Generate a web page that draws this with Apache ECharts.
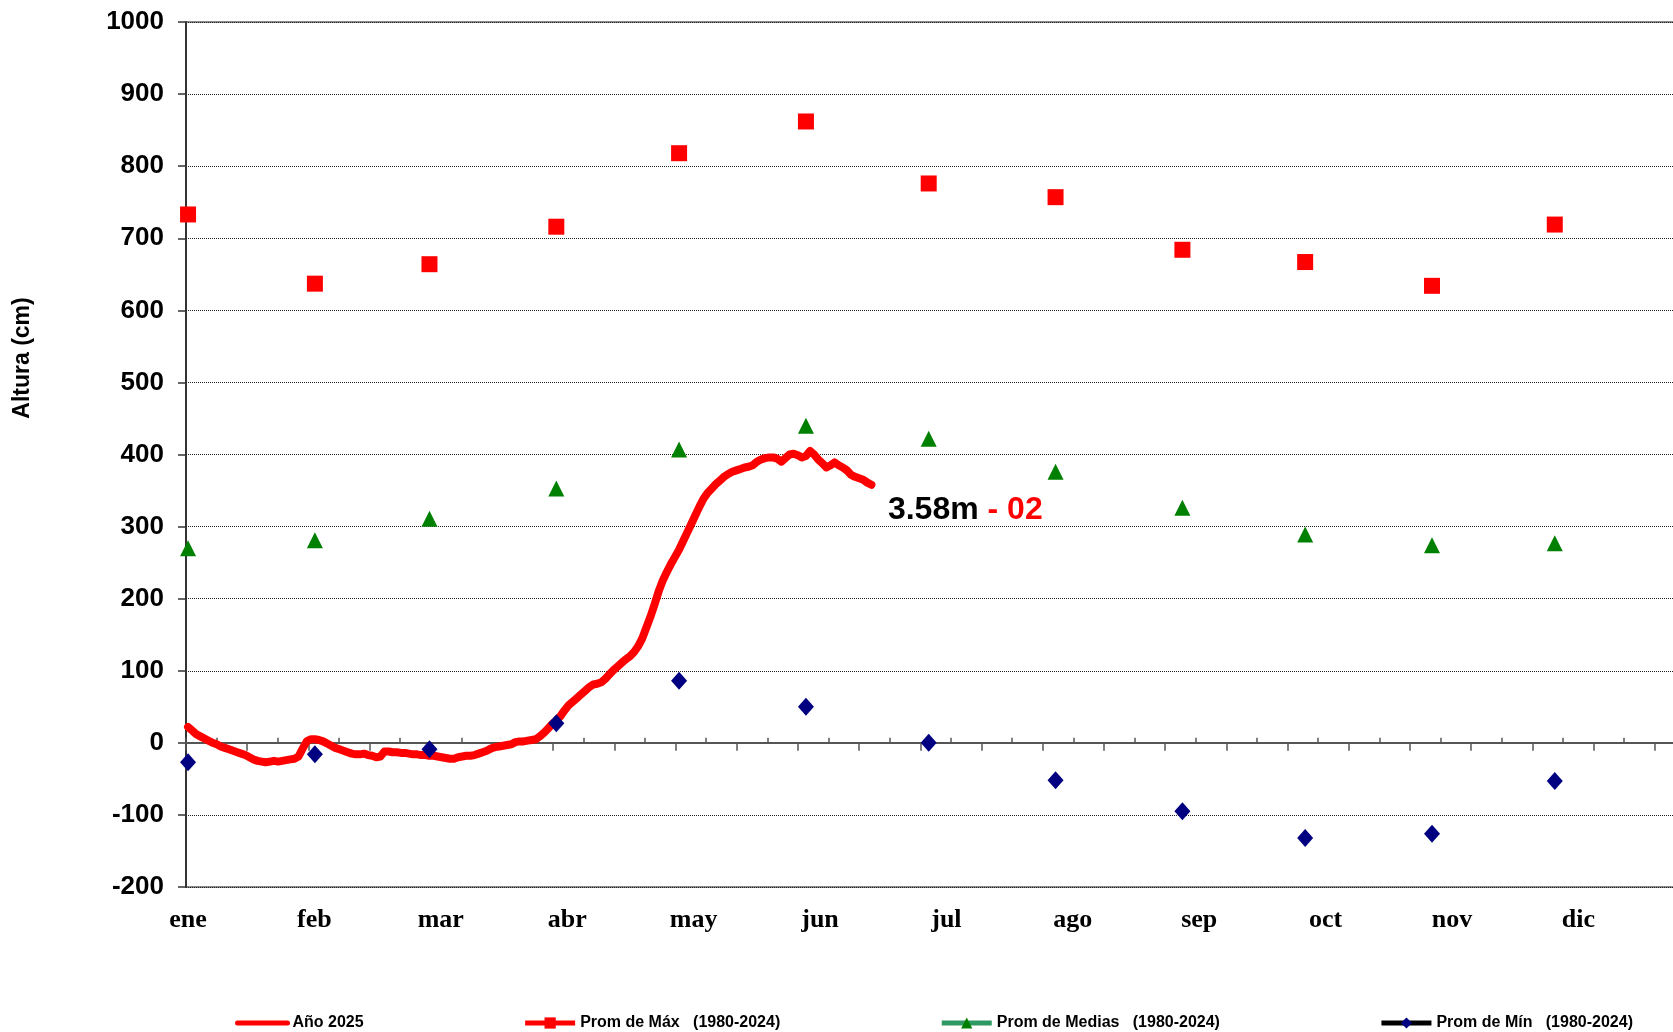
<!DOCTYPE html>
<html>
<head>
<meta charset="utf-8">
<title>Altura 2025</title>
<script src="https://cdn.jsdelivr.net/npm/echarts@6/dist/echarts.min.js"></script>
<style>
html, body { margin: 0; padding: 0; background: #fff; }
#chart { width: 1673px; height: 1032px; }
</style>
</head>
<body>
<div id="chart"></div>
<script>
var monthLabels = ['ene', 'feb', 'mar', 'abr', 'may', 'jun', 'jul', 'ago', 'sep', 'oct', 'nov', 'dic'];
// dia del año donde va cada promedio mensual
var monthStartDays = [1, 32, 60, 91, 121, 152, 182, 213, 244, 274, 305, 335];
var promMax = [733, 637, 664, 716, 818, 862, 776, 757, 684, 667, 634, 719];
var promMedias = [270, 281, 311, 353, 407, 440, 422, 376, 326, 289, 274, 277];
var promMin = [-27, -16, -9, 27, 86, 50, 0, -52, -95, -132, -126, -53];
var yTicks = [-200, 1000, 100];

// altura diaria 2025 desde el 1 de enero (cm)
var nivel2025 = [
  22, 17, 12, 9, 6, 3, 0, -2, -5, -7,
  -9, -11, -13, -15, -17, -20, -23, -25, -26, -27,
  -26, -25, -26, -25, -24, -23, -22, -19, -8, 2,
  5, 5, 4, 2, -1, -4, -7, -9, -11, -13,
  -15, -16, -16, -15, -17, -18, -20, -19, -12, -12,
  -13, -13, -14, -14, -15, -16, -16, -17, -17, -18,
  -18, -19, -20, -21, -22, -22, -20, -19, -18, -18,
  -17, -15, -13, -11, -8, -6, -5, -4, -3, -2,
  1, 2, 2, 3, 4, 5, 9, 14, 20, 26,
  31, 37, 45, 52, 57, 62, 67, 72, 77, 81,
  82, 84, 89, 95, 101, 106, 111, 116, 120, 126,
  134, 145, 160, 175, 192, 210, 225, 237, 248, 258,
  268, 280, 292, 304, 316, 328, 339, 347, 353, 359,
  364, 369, 373, 376, 378, 380, 382, 383, 385, 390,
  393, 395, 396, 396, 394, 390, 395, 400, 401, 399,
  396, 398, 405, 400, 393, 388, 382, 385, 389, 385,
  382, 378, 372, 369, 367, 365, 361, 358
];

var seriesNames = ['Año 2025', 'Prom de Máx   (1980-2024)', 'Prom de Medias   (1980-2024)', 'Prom de Mín   (1980-2024)'];

var dom = document.getElementById('chart');
var myChart = echarts.init(dom, null, { renderer: 'canvas' });

function monthly(vals) {
  return vals.map(function (v, i) { return [monthStartDays[i] - 0.5, v]; });
}
var lineData = nivel2025.map(function (v, i) { return [i + 0.5, v]; });
var last = lineData[lineData.length - 1];

var axisFont = 'Liberation Sans, Arial, sans-serif';
var dayStep = 14.956;        // marcas cada medio mes
var dayMax = 24.5 * dayStep; // fin del eje en dias

var option = {
  animation: false,
  backgroundColor: '#fff',
  grid: {
    left: 186, top: 22, right: -12.4, bottom: 145,
    show: true, borderColor: '#8a8a8a', borderWidth: 2,
    outerBoundsMode: 'none'
  },
  legend: {
    left: 230, top: 1010,
    itemGap: 159, itemWidth: 50, itemHeight: 14,
    textStyle: { color: '#000', fontSize: 16, fontWeight: 'bold', fontFamily: axisFont },
    data: [
      { name: seriesNames[0], lineStyle: { color: '#ff0000', width: 5, opacity: 1 }, itemStyle: { opacity: 0 } },
      { name: seriesNames[1], lineStyle: { color: '#ff0000', width: 5, opacity: 1 } },
      { name: seriesNames[2], lineStyle: { color: '#2e9960', width: 5, opacity: 1 } },
      { name: seriesNames[3], lineStyle: { color: '#000000', width: 5, opacity: 1 } }
    ]
  },
  graphic: [{
    type: 'text',
    x: 23, y: 358,
    rotation: Math.PI / 2,
    style: {
      text: 'Altura (cm)',
      font: 'bold 23px ' + axisFont,
      fill: '#000',
      textAlign: 'center',
      textVerticalAlign: 'middle'
    }
  }],
  xAxis: [
    {
      // eje de dias (marcas hacia abajo)
      type: 'value',
      min: 0, max: dayMax, interval: dayStep,
      axisLine: { show: true, onZero: true, lineStyle: { color: '#555', width: 2 } },
      axisTick: { show: true, length: 8, lineStyle: { color: '#555', width: 1.5 } },
      axisLabel: { show: false },
      splitLine: { show: false }
    },
    {
      // etiquetas de meses
      type: 'value',
      position: 'bottom',
      min: 0, max: 11.862, interval: 1,
      axisLine: { show: false, onZero: false },
      axisTick: { show: false },
      splitLine: { show: false },
      axisLabel: {
        show: true, margin: 20, padding: [0, 0, 0, 4],
        showMinLabel: true, showMaxLabel: false,
        color: '#000', fontSize: 26, fontWeight: 'bold',
        fontFamily: 'Liberation Serif, Times New Roman, serif',
        formatter: function (v) { return monthLabels[Math.round(v)] || ''; }
      }
    },
    {
      // marcas hacia arriba, desfasadas un cuarto de mes
      type: 'value',
      position: 'bottom',
      inverse: true,
      offset: -144.17,
      min: 0, max: dayMax, interval: dayStep,
      axisLine: { show: false, onZero: false },
      axisTick: { show: true, inside: true, length: 5, lineStyle: { color: '#555', width: 1.5 } },
      axisLabel: { show: false },
      splitLine: { show: false }
    }
  ],
  yAxis: {
    type: 'value',
    min: yTicks[0], max: yTicks[1], interval: yTicks[2],
    axisLine: { show: true, lineStyle: { color: '#333', width: 2 } },
    axisTick: { show: true, length: 8, lineStyle: { color: '#333', width: 1.5 } },
    axisLabel: {
      color: '#000', fontSize: 26, fontWeight: 'bold', fontFamily: axisFont, margin: 22,
      formatter: function (v) { return String(v); }
    },
    splitLine: { show: true, lineStyle: { color: '#222', width: 1, type: [1, 1] } }
  },
  series: [
    {
      name: seriesNames[0],
      type: 'line',
      xAxisIndex: 0,
      data: lineData,
      symbol: 'none',
      smooth: false,
      lineStyle: { color: '#ff0000', width: 8, cap: 'round', join: 'round' },
      itemStyle: { color: '#ff0000' },
      markPoint: {
        symbol: 'circle', symbolSize: 1,
        itemStyle: { color: 'rgba(0,0,0,0)' },
        data: [{ coord: last, value: last[1] }],
        label: {
          show: true, position: 'right', distance: 0, offset: [16, 25],
          formatter: function (p) { return '{a|' + (p.value / 100).toFixed(2) + 'm}{b| - 02}'; },
          rich: {
            a: { color: '#000', fontSize: 32, fontWeight: 'bold', fontFamily: axisFont },
            b: { color: '#ff0000', fontSize: 32, fontWeight: 'bold', fontFamily: axisFont }
          }
        }
      }
    },
    {
      name: seriesNames[1],
      type: 'line',
      data: monthly(promMax),
      symbol: 'rect', symbolSize: 16,
      showSymbol: true, showAllSymbol: true,
      lineStyle: { width: 0, opacity: 0 },
      itemStyle: { color: '#ff0000' }
    },
    {
      name: seriesNames[2],
      type: 'line',
      data: monthly(promMedias),
      symbol: 'triangle', symbolSize: 16,
      showSymbol: true, showAllSymbol: true,
      lineStyle: { width: 0, opacity: 0 },
      itemStyle: { color: '#008000' }
    },
    {
      name: seriesNames[3],
      type: 'line',
      data: monthly(promMin),
      symbol: 'diamond', symbolSize: [16, 18],
      showSymbol: true, showAllSymbol: true,
      lineStyle: { width: 0, opacity: 0 },
      itemStyle: { color: '#000080' }
    }
  ]
};

myChart.setOption(option, true);
</script>
</body>
</html>
